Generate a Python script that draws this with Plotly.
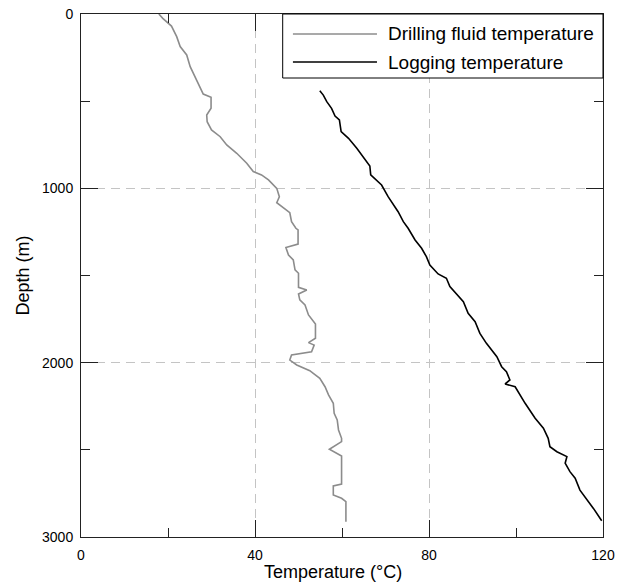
import plotly.graph_objects as go

# Drilling fluid temperature (°C) vs depth (m)
fluid_temp = [17.9, 18.8, 20.8, 22.0, 22.8, 24.3, 25.1, 26.2, 27.4, 28.1, 29.9, 29.9, 28.9, 29.0,
              30.0, 32.0, 33.5, 35.8, 38.1, 39.6, 41.5, 43.1, 45.0, 45.6, 45.0, 48.0, 48.4, 49.4,
              49.9, 49.9, 47.1, 47.7, 48.8, 49.2, 50.0, 50.0, 51.9, 50.0, 50.3, 51.5, 52.3, 53.4,
              53.9, 53.9, 52.3, 53.6, 53.0, 48.4, 48.0, 49.6, 52.6, 53.4, 54.9, 56.1, 56.9, 58.0,
              58.2, 58.9, 59.2, 59.9, 59.9, 57.1, 59.9, 59.9, 58.0, 58.0, 59.9, 60.9, 60.9]
fluid_depth = [0, 25, 69, 130, 187, 235, 302, 360, 417, 459, 478, 541, 579, 618,
               665, 704, 751, 799, 856, 904, 923, 952, 1000, 1048, 1082, 1140, 1191, 1229,
               1239, 1320, 1339, 1383, 1411, 1468, 1487, 1568, 1583, 1606, 1640, 1669, 1726, 1765,
               1778, 1860, 1885, 1899, 1937, 1956, 1985, 2013, 2046, 2061, 2090, 2138, 2185, 2233,
               2290, 2329, 2386, 2434, 2453, 2497, 2535, 2696, 2707, 2759, 2778, 2797, 2912]

# Logging temperature (°C) vs depth (m)
log_temp = [54.9, 55.7, 56.5, 57.6, 58.4, 59.4, 59.8, 61.5, 63.4, 64.9, 66.4, 66.6, 68.3, 69.1,
            70.6, 71.8, 72.9, 74.1, 75.2, 76.8, 78.3, 79.4, 80.2, 82.1, 84.0, 84.8, 87.9, 89.0,
            90.6, 91.7, 93.2, 95.6, 96.7, 97.8, 98.6, 97.5, 99.8, 102.1, 104.4, 106.3, 107.4,
            107.8, 109.4, 111.7, 111.3, 112.4, 113.6, 114.7, 115.9, 117.8, 119.7]
log_depth = [440, 465, 503, 541, 585, 608, 675, 713, 770, 818, 872, 923, 962, 981,
             1048, 1095, 1134, 1191, 1229, 1296, 1344, 1392, 1440, 1491, 1516, 1564, 1650, 1717,
             1765, 1832, 1889, 1966, 2023, 2052, 2099, 2122, 2138, 2233, 2319, 2376, 2434,
             2482, 2511, 2539, 2577, 2625, 2663, 2731, 2769, 2836, 2907]

series_names = ["Drilling fluid temperature", "Logging temperature"]
series_colors = ["#8c8c8c", "#000000"]
x_title = "Temperature (°C)"
y_title = "Depth (m)"

FONT = "Liberation Sans, Arial, sans-serif"

fig = go.Figure()
fig.add_trace(go.Scatter(x=fluid_temp, y=fluid_depth, mode="lines", name=series_names[0],
                         line=dict(color=series_colors[0], width=1.6), showlegend=False))
fig.add_trace(go.Scatter(x=log_temp, y=log_depth, mode="lines", name=series_names[1],
                         line=dict(color=series_colors[1], width=1.6), showlegend=False))

axis_common = dict(
    showline=True, linecolor="#222", linewidth=1, mirror="ticks",
    ticks="inside", ticklen=17, tickwidth=1, tickcolor="#222",
    showgrid=True, gridcolor="#c4c4c4", gridwidth=1, griddash="9px,6px",
    zeroline=False, tickfont=dict(family=FONT, size=14, color="#000"),
    automargin=False,
)

fig.update_xaxes(range=[0, 120], tick0=0, dtick=40,
                 minor=dict(dtick=20, ticks="inside", ticklen=9, tickcolor="#222", showgrid=False),
                 ticklabelstandoff=5,
                 **axis_common)
fig.update_yaxes(range=[3000, 0], tick0=0, dtick=1000,
                 minor=dict(dtick=500, ticks="inside", ticklen=9, tickcolor="#222", showgrid=False),
                 ticklabelstandoff=4,
                 **axis_common)

# Axis titles as annotations (positioned as in reference)
annotations = [
    dict(text=x_title, xref="paper", yref="paper", x=0.483, y=-0.066, xanchor="center",
         yanchor="middle", showarrow=False, font=dict(family=FONT, size=18, color="#000")),
    dict(text=y_title, xref="paper", yref="paper", x=-0.113, y=0.5, xanchor="center",
         yanchor="middle", textangle=-90, showarrow=False, font=dict(family=FONT, size=18, color="#000")),
]

# Legend box drawn in paper coordinates
lx0, lx1, ly0, ly1 = 0.3864, 1.0, 0.8776, 1.0
shapes = [dict(type="rect", xref="paper", yref="paper", x0=lx0, x1=lx1, y0=ly0, y1=ly1,
               line=dict(color="#000", width=1), fillcolor="white", layer="above")]
rows_y = [0.9618, 0.9082]
for name, color, ry in zip(series_names, series_colors, rows_y):
    shapes.append(dict(type="line", xref="paper", yref="paper", x0=0.406, x1=0.567, y0=ry, y1=ry,
                       line=dict(color=color, width=1.6), layer="above"))
    annotations.append(dict(text=name, xref="paper", yref="paper", x=0.5843, y=ry, xanchor="left",
                            yanchor="middle", showarrow=False,
                            font=dict(family=FONT, size=19, color="#000")))

fig.update_layout(
    width=618, height=586,
    margin=dict(l=81, r=15, t=14, b=49),
    plot_bgcolor="white", paper_bgcolor="white",
    shapes=shapes, annotations=annotations, showlegend=False,
)

fig.write_html("out.html")
